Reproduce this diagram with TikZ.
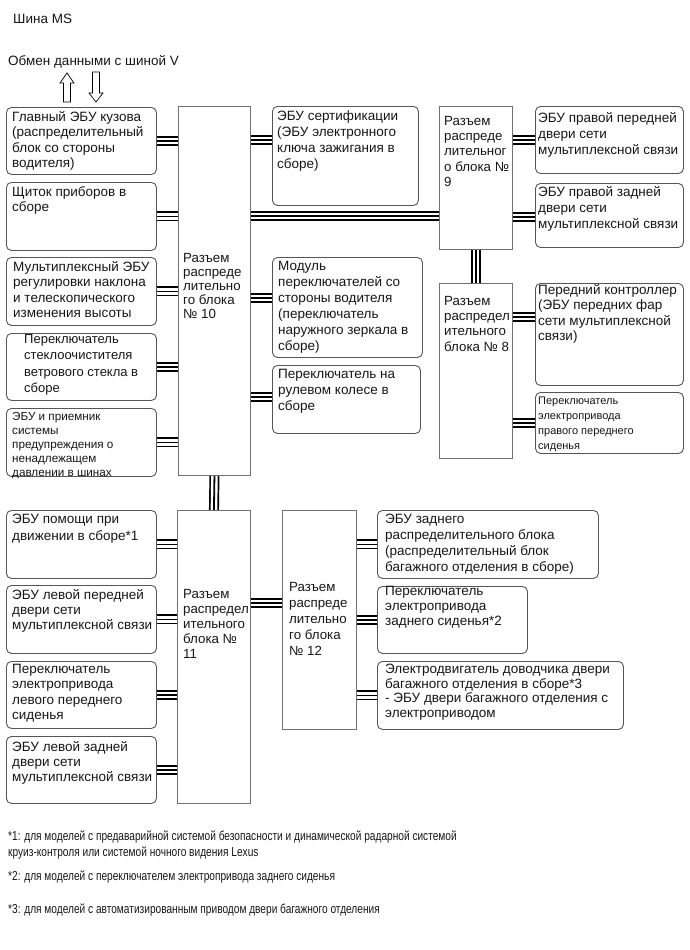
\documentclass[tikz,border=0pt]{standalone}
\usepackage{fontspec}
\setmainfont{Liberation Sans}
\newfontfamily\notefont[FakeStretch=0.78]{Liberation Sans}
\usetikzlibrary{backgrounds}

\definecolor{framegray}{HTML}{555555}
\definecolor{blockgray}{HTML}{707070}
\definecolor{inkgray}{HTML}{161616}

\tikzset{
  unit/.style={draw=framegray, line width=0.9pt, rounded corners=5pt, anchor=north west, inner sep=0pt},
  jblock/.style={draw=blockgray, line width=0.9pt, anchor=north west, inner sep=0pt},
  txt/.style={anchor=north west, inner sep=0pt, align=left, text=inkgray, font=\fontsize{13.5}{15.5}\selectfont},
  smalltxt/.style={font=\fontsize{11.7}{14}\selectfont},
  bus/.style={line width=10pt, postaction={draw=white, line width=6.6pt}, postaction={draw=black, line width=1.8pt}},
  hollow/.style={draw=black, line width=0.7pt, fill=white},
}

\begin{document}
\begin{tikzpicture}[x=1pt, y=-1pt]
    \useasboundingbox (0,0) rectangle (690,950);

    \node[txt, anchor=west] (title) at (13,19) {Шина MS};
    \node[txt, anchor=west] (vlink) at (8,62) {Обмен данными с шиной V};
    \draw[hollow] (67,73) -- (74,83) -- (70.5,83) -- (70.5,102) -- (63.5,102) -- (63.5,83) -- (60,83) -- cycle;
    \draw[hollow] (96,102) -- (103,93) -- (99.5,93) -- (99.5,72) -- (92.5,72) -- (92.5,93) -- (89,93) -- cycle;

    % left column
    \node[unit, minimum width=150pt, minimum height=67pt] (l1) at (6,107) {};
    \node[unit, minimum width=150pt, minimum height=68pt] (l2) at (6,182) {};
    \node[unit, minimum width=150pt, minimum height=68pt] (l3) at (6,257) {};
    \node[unit, minimum width=150pt, minimum height=67pt] (l4) at (6,333) {};
    \node[unit, minimum width=150pt, minimum height=68pt] (l5) at (6,408) {};
    \node[txt] (l1t) at (12,111) {Главный ЭБУ кузова\\(распределительный\\блок со стороны\\водителя)};
    \node[txt] (l2t) at (12,186) {Щиток приборов в\\сборе};
    \node[txt] (l3t) at (13,261) {Мультиплексный ЭБУ\\регулировки наклона\\и телескопического\\изменения высоты};
    \node[txt, font=\fontsize{13}{16.5}\selectfont] (l4t) at (24,334) {Переключатель\\стеклоочистителя\\ветрового стекла в\\сборе};
    \node[txt, smalltxt] (l5t) at (12,412) {ЭБУ и приемник\\системы\\предупреждения о\\ненадлежащем\\давлении в шинах};

    % junction blocks
    \node[jblock, minimum width=72pt, minimum height=369pt] (j10) at (178,106) {};
    \node[jblock, minimum width=73pt, minimum height=143pt] (j9) at (439,106) {};
    \node[jblock, minimum width=73pt, minimum height=175pt] (j8) at (439,283) {};
    \node[jblock, minimum width=73pt, minimum height=293pt] (j11) at (177,510) {};
    \node[jblock, minimum width=74pt, minimum height=219pt] (j12) at (282,510) {};
    \node[txt, font=\fontsize{13.3}{14}\selectfont] (j10t) at (183,253) {Разъем\\распреде\\лительно\\го блока\\№ 10};
    \node[txt, font=\fontsize{13.3}{15.3}\selectfont] (j9t) at (444,116) {Разъем\\распреде\\лительног\\о блока №\\9};
    \node[txt, font=\fontsize{13.3}{15.3}\selectfont] (j8t) at (444,296) {Разъем\\распредел\\ительного\\блока № 8};
    \node[txt, font=\fontsize{13.3}{15}\selectfont] (j11t) at (183,589) {Разъем\\распредел\\ительного\\блока №\\11};
    \node[txt, font=\fontsize{13.3}{16}\selectfont] (j12t) at (289,582) {Разъем\\распреде\\лительно\\го блока\\№ 12};

    % middle column
    \node[unit, minimum width=146pt, minimum height=99pt] (r1) at (272,106) {};
    \node[unit, minimum width=150pt, minimum height=100pt] (r2) at (272,257) {};
    \node[unit, minimum width=148pt, minimum height=68pt] (r3) at (272,365) {};
    \node[txt, font=\fontsize{13.5}{16}\selectfont] (r1t) at (277,111) {ЭБУ сертификации\\(ЭБУ электронного\\ключа зажигания в\\сборе)};
    \node[txt, font=\fontsize{13.5}{16}\selectfont] (r2t) at (278,261) {Модуль\\переключателей со\\стороны водителя\\(переключатель\\наружного зеркала в\\сборе)};
    \node[txt, font=\fontsize{13.5}{16}\selectfont] (r3t) at (278,369) {Переключатель на\\рулевом колесе в\\сборе};

    % right column
    \node[unit, minimum width=148pt, minimum height=67pt] (rr1) at (535,106) {};
    \node[unit, minimum width=148pt, minimum height=64pt] (rr2) at (535,183) {};
    \node[unit, minimum width=148pt, minimum height=102pt] (rr3) at (535,283) {};
    \node[unit, minimum width=148pt, minimum height=61pt] (rr4) at (535,392) {};
    \node[txt, font=\fontsize{13.5}{16}\selectfont] (rr1t) at (538,112) {ЭБУ правой передней\\двери сети\\мультиплексной связи};
    \node[txt, font=\fontsize{13.5}{16}\selectfont] (rr2t) at (538,186) {ЭБУ правой задней\\двери сети\\мультиплексной связи};
    \node[txt] (rr3t) at (538,284) {Передний контроллер\\(ЭБУ передних фар\\сети мультиплексной\\связи)};
    \node[txt, font=\fontsize{11}{15}\selectfont] (rr4t) at (538,397) {Переключатель\\электропривода\\правого переднего\\сиденья};

    % lower left column
    \node[unit, minimum width=150pt, minimum height=68pt] (ll1) at (6,510) {};
    \node[unit, minimum width=150pt, minimum height=68pt] (ll2) at (6,585) {};
    \node[unit, minimum width=150pt, minimum height=67pt] (ll3) at (6,661) {};
    \node[unit, minimum width=150pt, minimum height=67pt] (ll4) at (6,736) {};
    \node[txt, font=\fontsize{13.5}{16.5}\selectfont] (ll1t) at (12,514) {ЭБУ помощи при\\движении в сборе*1};
    \node[txt, font=\fontsize{13.5}{15}\selectfont] (ll2t) at (12,589) {ЭБУ левой передней\\двери сети\\мультиплексной связи};
    \node[txt] (ll3t) at (12,664) {Переключатель\\электропривода\\левого переднего\\сиденья};
    \node[txt, font=\fontsize{13.5}{15}\selectfont] (ll4t) at (12,741) {ЭБУ левой задней\\двери сети\\мультиплексной связи};

    % lower right column
    \node[unit, minimum width=221pt, minimum height=68pt] (lr1) at (377,510) {};
    \node[unit, minimum width=150pt, minimum height=67pt] (lr2) at (377,586) {};
    \node[unit, minimum width=246pt, minimum height=68pt] (lr3) at (377,661) {};
    \node[txt, font=\fontsize{13.5}{15.8}\selectfont] (lr1t) at (385,514) {ЭБУ заднего\\распределительного блока\\(распределительный блок\\багажного отделения в сборе)};
    \node[txt, font=\fontsize{13.5}{15}\selectfont] (lr2t) at (385,586) {Переключатель\\электропривода\\заднего сиденья*2};
    \node[txt, font=\fontsize{13.5}{14.5}\selectfont] (lr3t) at (385,664) {Электродвигатель доводчика двери\\багажного отделения в сборе*3\\- ЭБУ двери багажного отделения с\\электроприводом};

    % notes
    \node[txt, font=\notefont\fontsize{13}{16}\selectfont] (n1) at (8,831) {*1: для моделей с предаварийной системой безопасности и динамической радарной системой\\круиз-контроля или системой ночного видения Lexus};
    \node[txt, anchor=west, font=\notefont\fontsize{13}{16}\selectfont] (n2) at (8,877) {*2: для моделей с переключателем электропривода заднего сиденья};
    \node[txt, anchor=west, font=\notefont\fontsize{13}{16}\selectfont] (n3) at (8,910) {*3: для моделей с автоматизированным приводом двери багажного отделения};

    \begin{pgfonlayer}{background}
        \foreach \b in {l1, l2, l3, l4, l5} {
                \draw[bus] (\b.east) -- (\b.east -| j10.west);
            }
        \foreach \b in {ll1, ll2, ll3, ll4} {
                \draw[bus] (\b.east) -- (\b.east -| j11.west);
            }
        \foreach \b in {lr1, lr2, lr3} {
                \draw[bus] (\b.west -| j12.east) -- (\b.west);
            }
        \draw[bus] (j10.east |- 0,140) -- (r1.west |- 0,140);
        \draw[bus] (j10.east |- 0,298) -- (r2.west |- 0,298);
        \draw[bus] (j10.east |- 0,397) -- (r3.west |- 0,397);
        \draw[bus] (j10.east |- 0,216) -- (j9.west |- 0,216);
        \draw[bus] (j9.east |- 0,140) -- (rr1.west |- 0,140);
        \draw[bus] (j9.east |- 0,217) -- (rr2.west |- 0,217);
        \draw[bus] (j8.east |- 0,317) -- (rr3.west |- 0,317);
        \draw[bus] (j8.east |- 0,423) -- (rr4.west |- 0,423);
        \draw[bus] (j9.south) -- (j8.north);
        \draw[bus] (j10.south) -- (j11.north);
        \draw[bus] (j11.east |- 0,603) -- (j12.west |- 0,603);
    \end{pgfonlayer}
\end{tikzpicture}
\end{document}
